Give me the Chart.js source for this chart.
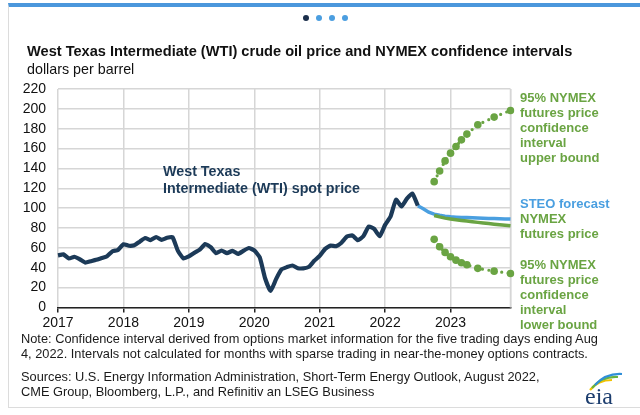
<!DOCTYPE html>
<html>
<head>
<meta charset="utf-8">
<script src="https://cdn.jsdelivr.net/npm/chart.js@4.4.0/dist/chart.umd.min.js"></script>
<style>
  html, body { margin: 0; padding: 0; background: #fff; width: 640px; height: 415px; overflow: hidden;
               font-family: "Liberation Sans", Arial, sans-serif; }
  #card { position: absolute; left: 8px; top: 3px; width: 640px; height: 400px;
          border-top: 4px solid #4b97dc; border-left: 1px solid #dcdcdc; border-bottom: 1px solid #dcdcdc; }
  #chart { position: absolute; left: 0; top: 0; }
  .t { position: absolute; white-space: nowrap; }
  .dot { position: absolute; top: 15px; width: 6px; height: 6px; border-radius: 50%; background: #4b9ee0; }
  .title { left: 27px; top: 43px; font-size: 14.6px; line-height: 16px; font-weight: bold; color: #111; }
  .sub { left: 27px; top: 61px; font-size: 14.3px; line-height: 16px; color: #111; }
  .wti { left: 163px; top: 163px; font-size: 14.3px; line-height: 16.5px; font-weight: bold; color: #1c3a58; }
  .side { left: 520px; font-size: 13px; line-height: 15px; font-weight: bold; color: #6aa443; }
  .steo { color: #4a9fe0; }
  .note { left: 21px; font-size: 12.8px; line-height: 15px; color: #1a1a1a; }
</style>
</head>
<body>
<div id="card"></div>
<canvas id="chart" width="640" height="415"></canvas>

<div class="dot" style="left:303px;background:#1b2f4b"></div>
<div class="dot" style="left:316px"></div>
<div class="dot" style="left:329px"></div>
<div class="dot" style="left:342px"></div>

<div class="t title">West Texas Intermediate (WTI) crude oil price and NYMEX confidence intervals</div>
<div class="t sub">dollars per barrel</div>

<div class="t wti">West Texas<br>Intermediate (WTI) spot price</div>

<div class="t side" style="top:89.5px">95% NYMEX<br>futures price<br>confidence<br>interval<br>upper bound</div>
<div class="t side steo" style="top:196px">STEO forecast</div>
<div class="t side" style="top:211px">NYMEX<br>futures price</div>
<div class="t side" style="top:256.5px">95% NYMEX<br>futures price<br>confidence<br>interval<br>lower bound</div>

<div class="t note" style="top:331px">Note: Confidence interval derived from options market information for the five trading days ending Aug<br>4, 2022. Intervals not calculated for months with sparse trading in near-the-money options contracts.</div>
<div class="t note" style="top:369px">Sources: U.S. Energy Information Administration, Short-Term Energy Outlook, August 2022,<br>CME Group, Bloomberg, L.P., and Refinitiv an LSEG Business</div>

<svg style="position:absolute;left:582px;top:368px" width="44" height="40" viewBox="0 0 44 40">
  <path d="M8 22 Q16 12 30 12" stroke="#f2c200" stroke-width="2.2" fill="none"/>
  <path d="M10 20 Q20 8 36 9" stroke="#69b33f" stroke-width="2.2" fill="none"/>
  <path d="M13 17 Q24 5 40 6" stroke="#2f8fd8" stroke-width="2.2" fill="none"/>
  <text x="3" y="36" font-family="Liberation Serif, serif" font-size="24" fill="#1c3d6e">eia</text>
</svg>

<script>
// ─── Data ─────────────────────────────────────────────
const years      = ['2017', '2018', '2019', '2020', '2021', '2022', '2023'];
const monthNames = ['Jan', 'Feb', 'Mar', 'Apr', 'May', 'Jun', 'Jul', 'Aug', 'Sep', 'Oct', 'Nov', 'Dec'];

// WTI monthly spot price, Jan 2017 – Jul 2022
const wtiSpot = [
    52.5, 53.5, 49.3, 51.1, 48.5, 45.2, 46.6, 48.0, 49.8, 51.6, 56.6, 57.9,
    63.7, 62.2, 62.7, 66.3, 70.0, 67.9, 71.0, 68.1, 70.2, 70.8, 57.0, 49.5,
    51.4, 55.0, 58.2, 63.9, 60.8, 54.7, 57.4, 54.8, 57.0, 54.0, 57.0, 59.9,
    57.5, 50.5, 29.2, 16.6, 28.6, 38.3, 40.7, 42.3, 39.6, 39.4, 40.9, 47.0,
    52.0, 59.0, 62.3, 61.7, 65.2, 71.4, 72.5, 67.7, 71.7, 81.5, 79.2, 71.7,
    83.2, 91.6, 108.5, 101.8, 109.6, 114.8, 102.5,
];

// STEO forecast, Jul 2022 – Dec 2023
const steoForecast = [102.5, 99.5, 96.0, 94.0, 92.8, 92.0, 91.4, 91.0, 90.7,
                      90.5, 90.3, 90.1, 89.9, 89.7, 89.5, 89.3, 89.2, 89.0];

// NYMEX futures and 95% bounds, Oct 2022 – Dec 2023 (null = not calculated)
const nymexFutures = [92.6, 91.2, 90.0, 89.2, 88.4, 87.7, 87.0, 86.3, 85.7, 85.1, 84.5, 83.9, 83.3, 82.8, 82.3];
const upperBound   = [126.7, 137.5, 147.6, 155.4, 162.1, 168.8, 174.6, null, 184.0, null, null, 191.7, null, null, 198.4];
const lowerBound   = [68.6, 61.2, 55.5, 51.1, 47.7, 45.0, 43.0, null, 39.4, null, null, 36.6, null, null, 34.3];

const STEO_START  = 66;   // Jul 2022
const NYMEX_START = 69;   // Oct 2022

// ─── Helpers ──────────────────────────────────────────
const NAVY  = '#1c3a58';
const BLUE  = '#4a9fe0';
const GREEN = '#6aa443';
const GRID  = '#d6d6d6';

const labels = years.flatMap(y => monthNames.map(m => `${m} ${y}`));
const pad = (start, vals) => Array(start).fill(null).concat(vals);

const tickFont = { family: '"Liberation Sans", Arial, sans-serif', size: 14 };

const dotted = (data) => ({
    data: pad(NYMEX_START, data),
    borderColor: GREEN,
    borderWidth: 3.2,
    borderDash: [0, 6.5],
    borderCapStyle: 'round',
    pointRadius: 3.8,
    pointBackgroundColor: GREEN,
    pointBorderWidth: 0,
    spanGaps: true,
    order: 4,
});

// ─── Right edge border ────────────────────────────────
const rightEdge = {
    id: 'rightEdge',
    beforeDatasetsDraw(chart) {
        const { ctx, chartArea } = chart;
        ctx.save();
        ctx.strokeStyle = GRID;
        ctx.lineWidth = 1.5;
        ctx.beginPath();
        ctx.moveTo(chartArea.right, chartArea.top);
        ctx.lineTo(chartArea.right, chartArea.bottom);
        ctx.stroke();
        ctx.restore();
    },
};

// ─── Chart ────────────────────────────────────────────
new Chart(document.getElementById('chart').getContext('2d'), {
    type: 'line',
    data: {
        labels,
        datasets: [
            { label: 'WTI spot price', data: pad(0, wtiSpot), borderColor: NAVY, borderWidth: 4.2,
              pointRadius: 0, tension: 0.15, borderJoinStyle: 'round', order: 1 },
            { label: 'NYMEX futures price', data: pad(NYMEX_START, nymexFutures), borderColor: GREEN,
              borderWidth: 3.5, pointRadius: 0, order: 2 },
            { label: 'STEO forecast', data: pad(STEO_START, steoForecast), borderColor: BLUE,
              borderWidth: 3.5, pointRadius: 0, order: 3 },
            { label: 'upper bound', ...dotted(upperBound) },
            { label: 'lower bound', ...dotted(lowerBound) },
        ],
    },
    options: {
        responsive: false,
        animation: false,
        devicePixelRatio: 1,
        layout: { padding: { left: 18, top: 89, right: 129.5, bottom: 82.5 } },
        plugins: { legend: { display: false }, tooltip: { enabled: false } },
        scales: {
            x: {
                type: 'category',
                offset: false,
                grid: {
                    color: c => (c.index % 12 === 0 || c.index === labels.length - 1) ? GRID : 'transparent',
                    lineWidth: 1.5,
                    tickColor: c => c.index % 12 === 0 ? '#222' : 'transparent',
                    tickLength: 5,
                },
                border: { color: '#222', width: 1.5 },
                ticks: {
                    autoSkip: false, maxRotation: 0, minRotation: 0, padding: 2,
                    font: tickFont, color: '#111',
                    callback: (v, i) => i % 12 === 0 ? years[i / 12] : '',
                },
                afterFit: s => { s.height = 25; },
            },
            y: {
                min: 0, max: 220,
                grid: { color: GRID, lineWidth: 1.5, drawTicks: false },
                border: { display: false },
                ticks: { stepSize: 20, padding: 12, font: tickFont, color: '#111' },
                afterFit: s => { s.width = 40; },
            },
        },
    },
    plugins: [rightEdge],
});
</script>
</body>
</html>
